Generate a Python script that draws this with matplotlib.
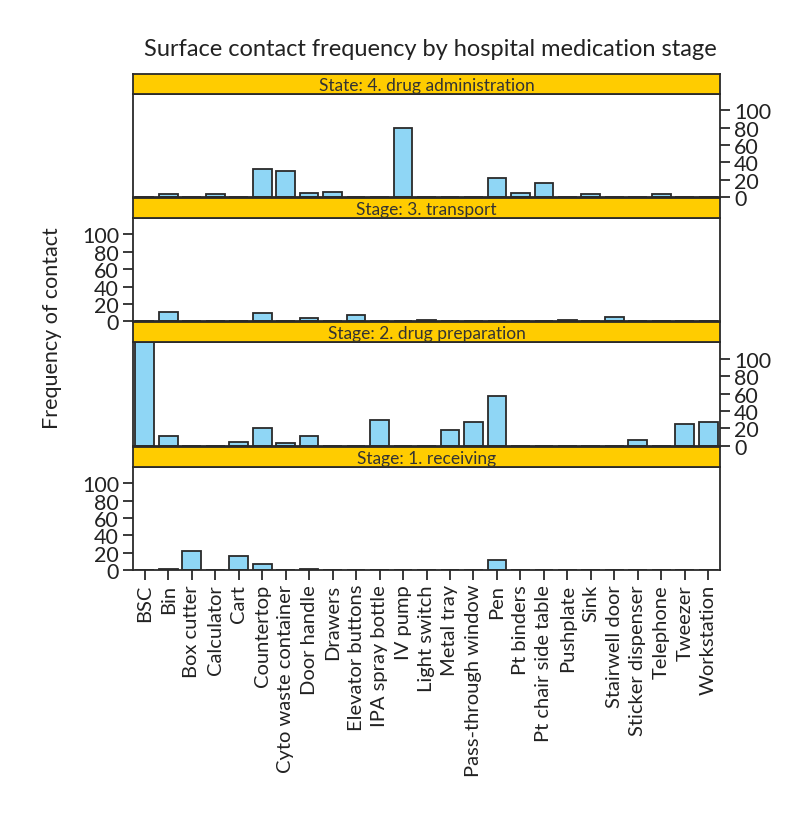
import matplotlib
matplotlib.use("Agg")
import matplotlib.pyplot as plt
import numpy as np

plt.rcParams['font.family'] = ['Lato', 'DejaVu Sans']

categories = ["BSC", "Bin", "Box cutter", "Calculator", "Cart", "Countertop",
              "Cyto waste container", "Door handle", "Drawers", "Elevator buttons",
              "IPA spray bottle", "IV pump", "Light switch", "Metal tray",
              "Pass-through window", "Pen", "Pt binders", "Pt chair side table",
              "Pushplate", "Sink", "Stairwell door", "Sticker dispenser",
              "Telephone", "Tweezer", "Workstation"]

stage_titles = ["State: 4. drug administration", "Stage: 3. transport",
                "Stage: 2. drug preparation", "Stage: 1. receiving"]

administration = [0, 3, 0, 4, 0, 32, 30, 5, 6, 0, 0, 80, 0, 0, 0, 22, 5, 16, 0, 3, 0, 0, 3, 0, 0]
transport      = [0, 11, 0, 0, 0, 10, 0, 4, 0, 7, 0, 0, 2, 0, 0, 0, 0, 0, 2, 0, 5, 0, 0, 0, 0]
preparation    = [140, 11, 0, 0, 4, 20, 3, 11, 0, 0, 30, 0, 0, 18, 27, 57, 0, 0, 0, 0, 0, 7, 0, 25, 27]
receiving      = [0, 1, 22, 0, 16, 7, 0, 1, 0, 0, 0, 0, 0, 0, 0, 12, 0, 0, 0, 0, 0, 0, 0, 0, 0]

yticks = [0, 20, 40, 60, 80, 100]

series = [administration, transport, preparation, receiving]
tick_side = ["right", "left", "right", "left"]

W, H = 796, 829
fig = plt.figure(figsize=(W / 100, H / 100), dpi=100)

left_px, right_px = 133, 720
strip_h, plot_h = 20, 103.3
plot_bottoms = [198, 322.3, 446.6, 571]

bar_col = "#8fd6f5"
edge_col = "#2a2a2a"
strip_col = "#ffcc00"
frame_col = "#2a2a2a"

x = np.arange(len(categories))

for i, (vals, side) in enumerate(zip(series, tick_side)):
    b = plot_bottoms[i]
    ax = fig.add_axes([left_px / W, 1 - b / H, (right_px - left_px) / W, plot_h / H])
    ax.bar(x, vals, width=0.8, color=bar_col, edgecolor=edge_col, linewidth=1.3, zorder=2)
    ax.set_xlim(-0.5, len(categories) - 0.5)
    ax.set_ylim(0, 119)
    for s in ax.spines.values():
        s.set_color(frame_col)
        s.set_linewidth(1.3)
    ax.set_yticks(yticks)
    ax.set_yticklabels([str(v) for v in yticks], fontsize=15.5, color="#222222")
    if side == "right":
        ax.yaxis.tick_right()
    else:
        ax.yaxis.tick_left()
    ax.tick_params(axis="y", direction="out", length=7, width=1.3, color=frame_col, pad=3)
    if i == 3:
        ax.set_xticks(x)
        ax.set_xticklabels(categories, rotation=90, fontsize=14.5, color="#222222", va="top", ha="center")
        ax.tick_params(axis="x", direction="out", length=7, width=1.3, color=frame_col, pad=3)
    else:
        ax.set_xticks([])
    # strip
    sax = fig.add_axes([left_px / W, 1 - (b - plot_h) / H, (right_px - left_px) / W, strip_h / H])
    sax.set_facecolor(strip_col)
    sax.set_xticks([])
    sax.set_yticks([])
    for s in sax.spines.values():
        s.set_color(frame_col)
        s.set_linewidth(1.3)
    sax.text(0.5, 0.45, stage_titles[i], ha="center", va="center", fontsize=12.5,
             color="#333333", transform=sax.transAxes)

fig.text(430 / W, 1 - 50 / H, "Surface contact frequency by hospital medication stage",
         ha="center", va="center", fontsize=17, color="#222222")
fig.text(52 / W, 1 - 328 / H, "Frequency of contact", rotation=90,
         ha="center", va="center", fontsize=15.5, color="#222222")

fig.savefig("out.png", dpi=100, facecolor="white")
